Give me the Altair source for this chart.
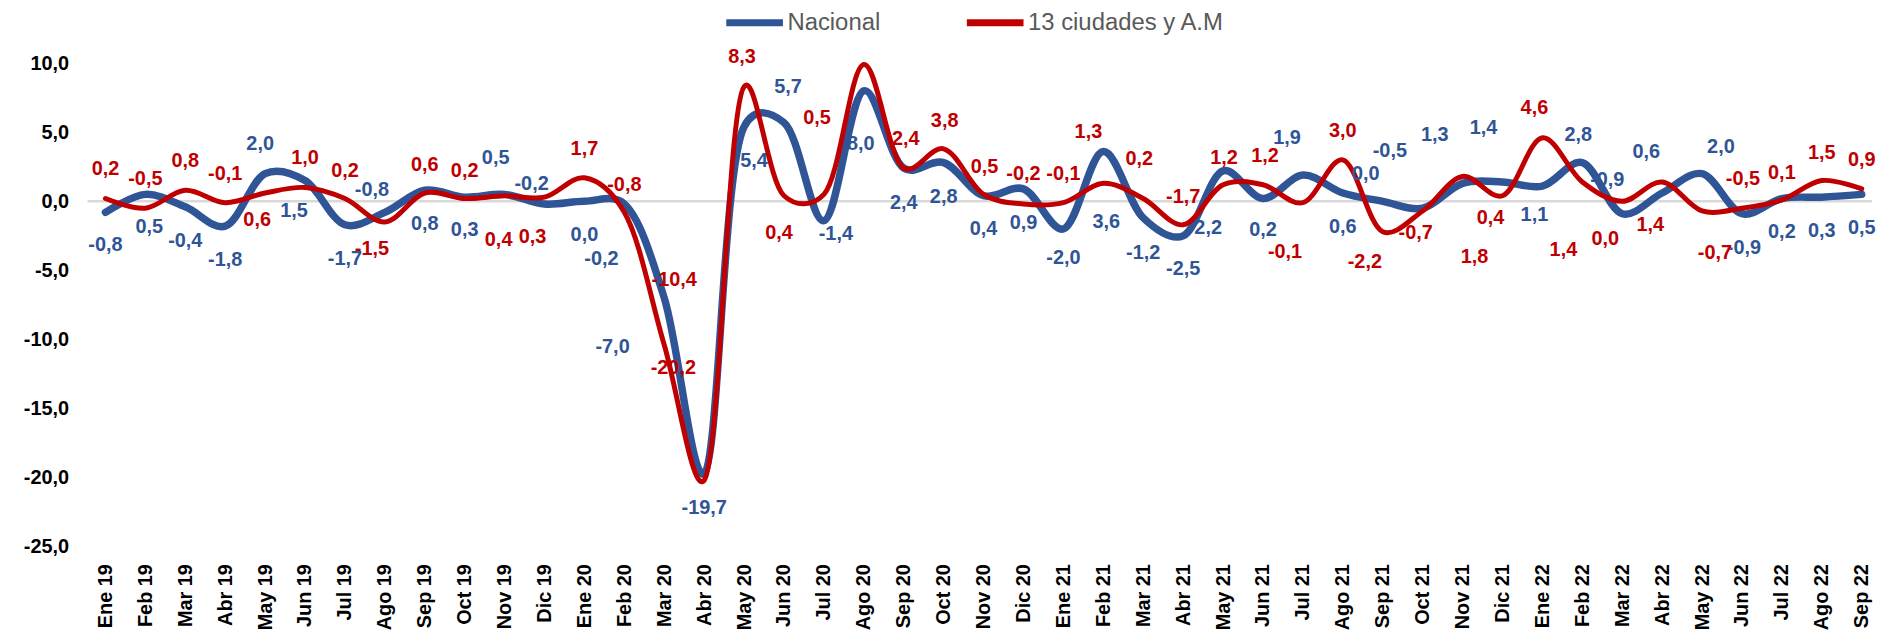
import altair as alt
import pandas as pd

meses = ["Ene 19", "Feb 19", "Mar 19", "Abr 19", "May 19", "Jun 19", "Jul 19", "Ago 19", "Sep 19", "Oct 19", "Nov 19", "Dic 19",
         "Ene 20", "Feb 20", "Mar 20", "Abr 20", "May 20", "Jun 20", "Jul 20", "Ago 20", "Sep 20", "Oct 20", "Nov 20", "Dic 20",
         "Ene 21", "Feb 21", "Mar 21", "Abr 21", "May 21", "Jun 21", "Jul 21", "Ago 21", "Sep 21", "Oct 21", "Nov 21", "Dic 21",
         "Ene 22", "Feb 22", "Mar 22", "Abr 22", "May 22", "Jun 22", "Jul 22", "Ago 22", "Sep 22"]

nacional = [-0.8, 0.5, -0.4, -1.8, 2.0, 1.5, -1.7, -0.8, 0.8, 0.3, 0.5, -0.2,
            0.0, -0.2, -7.0, -19.7, 5.4, 5.7, -1.4, 8.0, 2.4, 2.8, 0.4, 0.9,
            -2.0, 3.6, -1.2, -2.5, 2.2, 0.2, 1.9, 0.6, 0.0, -0.5, 1.3, 1.4,
            1.1, 2.8, -0.9, 0.6, 2.0, -0.9, 0.2, 0.3, 0.5]

ciudades = [0.2, -0.5, 0.8, -0.1, 0.6, 1.0, 0.2, -1.5, 0.6, 0.2, 0.4, 0.3,
            1.7, -0.8, -10.4, -20.2, 8.3, 0.4, 0.5, 9.9, 2.4, 3.8, 0.5, -0.2,
            -0.1, 1.3, 0.2, -1.7, 1.2, 1.2, -0.1, 3.0, -2.2, -0.7, 1.8, 0.4,
            4.6, 1.4, 0.0, 1.4, -0.7, -0.5, 0.1, 1.5, 0.9]

series = ["Nacional", "13 ciudades y A.M"]
colores = ["#2F5597", "#C00000"]

# label placement (pixel offsets of each data label from its point)
nac_dx = [0, 4, 0, 0, -5, -11, 0, -13, 0, 0, -9, -13,
          0, -23, -52, 0, 10, 4, 12, -3, 0, 0, 0, 0,
          0, 3, 0, 0, -15, 0, -16, 0, -17, -33, -28, -19,
          -8, -4, -15, -16, 19, 2, 0, 0, 0]
nac_dy = [33, 33, 34, 34, -30, 31, 34, -22, 34, 33, -37, -20,
          34, 55, 49, 35, 35, -36, 13, 54, 35, 35, 33, 34,
          29, 71, 35, 33, 57, 32, -37, 34, -27, -58, -49, -54,
          29, -28, -34, -41, -27, 34, 34, 34, 34]
ciu_dx = [0, 0, 0, 0, -8, 0, 0, -13, 0, 0, -6, -12,
          0, 0, 10, -31, -2, -5, -7, 0, 2, 1, 1, 0,
          0, -15, -4, 0, 1, 2, -18, 0, -18, -7, 12, -12,
          -8, -19, -17, -12, 13, 1, 0, 0, 0]
ciu_dy = [-30, -29, -29, -29, 27, -30, -28, 27, -28, -28, 45, 40,
          -29, -27, -65, -113, -30, 37, -77, 0, -29, -28, -28, -30,
          -29, -52, -40, -28, -27, -29, 50, -29, 31, 22, 81, 22,
          -30, 68, 38, 43, 42, -29, -27, -28, -29]
ciu_sin_etiqueta = [19]


def fmt(v):
    return f"{v:.1f}".replace(".", ",")


rows = []
for i, m in enumerate(meses):
    rows.append(dict(i=i, mes=m, serie=series[0], valor=nacional[i], etiqueta=fmt(nacional[i]),
                     dx=nac_dx[i], dy=nac_dy[i], ver=1))
for i, m in enumerate(meses):
    rows.append(dict(i=i, mes=m, serie=series[1], valor=ciudades[i], etiqueta=fmt(ciudades[i]),
                     dx=ciu_dx[i], dy=ciu_dy[i], ver=0 if i in ciu_sin_etiqueta else 1))
df = pd.DataFrame(rows)

W, H = 1795, 535
FONT = "Liberation Sans"

x = alt.X("mes:N", sort=meses,
          scale=alt.Scale(type="point", padding=0.354, align=0.634),
          axis=alt.Axis(title=None, labelAngle=-90, labelFontSize=20, labelFont=FONT,
                        labelFontWeight="bold", labelColor="#000000", labelPadding=17,
                        ticks=False, domain=False, grid=False, labelOverlap=False))
y = alt.Y("valor:Q",
          scale=alt.Scale(domain=[-25, 13.5], nice=False, zero=False),
          axis=alt.Axis(title=None, values=list(range(-25, 11, 5)),
                        labelExpr="(datum.value < 0 ? '-' : '') + abs(datum.value) + ',0'",
                        labelFontSize=20, labelFont=FONT, labelFontWeight="bold",
                        labelColor="#000000", labelPadding=19, ticks=False, domain=False, grid=False))

color = alt.Color("serie:N", sort=series, scale=alt.Scale(domain=series, range=colores),
                  legend=alt.Legend(title=None, orient="none", legendX=658, legendY=-5,
                                    direction="horizontal", symbolType="M-3,0H3", symbolSize=361,
                                    symbolStrokeWidth=7, symbolFillColor="transparent",
                                    labelFontSize=24, labelFont=FONT,
                                    labelColor="#595959", labelOffset=20, columnPadding=72,
                                    padding=0, labelLimit=400))

base = alt.Chart(df)

cero = alt.Chart(pd.DataFrame({"cero": [0]})).mark_rule(color="#D9D9D9", strokeWidth=2.5).encode(
    y=alt.Y("cero:Q"), x=alt.value(0), x2=alt.value(W))

linea_nac = base.transform_filter(alt.datum.serie == series[0]).mark_line(
    interpolate="catmull-rom", tension=0.3, strokeWidth=7.5, strokeCap="round").encode(
    x=x, y=y, color=color, order=alt.Order("i:Q"))
linea_ciu = base.transform_filter(alt.datum.serie == series[1]).mark_line(
    interpolate="catmull-rom", tension=0.3, strokeWidth=5, strokeCap="round").encode(
    x=x, y=y, color=color, order=alt.Order("i:Q"))


def etiquetas(nombre, col):
    return base.transform_filter((alt.datum.serie == nombre) & (alt.datum.ver == 1)).mark_text(
        font=FONT, fontSize=20, fontWeight="bold", color=col, baseline="middle", align="center",
        dx=alt.ExprRef(expr="datum.dx"), dy=alt.ExprRef(expr="datum.dy")).encode(
        x=x, y=y, text="etiqueta:N")


chart = alt.layer(cero, linea_nac, linea_ciu, etiquetas(series[0], colores[0]),
                  etiquetas(series[1], colores[1])).properties(
    width=W, height=H, padding={"left": 15, "top": 0, "right": 3, "bottom": 2},
    background="white").configure_view(stroke=None)

chart.save("out.html", embed_options={"renderer": "svg", "actions": False})
